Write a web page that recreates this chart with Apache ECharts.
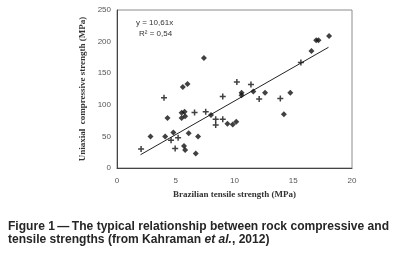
<!DOCTYPE html>
<html>
<head>
<meta charset="utf-8">
<script src="https://cdn.jsdelivr.net/npm/echarts@6/dist/echarts.min.js"></script>
<style>
  html, body { margin: 0; padding: 0; background: #fff; }
  #chart { width: 397px; height: 263px; }
</style>
</head>
<body>
<div id="chart"></div>
<script>
// diamond-marked samples [BTS, UCS]
var diamondPts = [
  [7.4, 174], [5.6, 128], [6.0, 133], [10.6, 119], [10.6, 115], [11.6, 121],
  [12.6, 119], [14.75, 119], [16.55, 185], [16.95, 202], [17.15, 202], [18.05, 209],
  [2.85, 50], [4.1, 50], [4.3, 79], [4.8, 56], [5.5, 79], [5.5, 87.5],
  [5.75, 89], [5.8, 82], [5.7, 35], [5.8, 28.5], [6.1, 55], [6.7, 23],
  [6.9, 50], [8.0, 84], [9.4, 70], [9.85, 69], [10.15, 73], [14.2, 85]
];
// plus-marked samples [BTS, UCS]
var plusPts = [
  [4.0, 111], [9.0, 113], [10.2, 136], [11.4, 132], [12.1, 109], [13.9, 110],
  [15.65, 167], [2.05, 30], [4.6, 44], [4.95, 31], [5.2, 48], [6.6, 88],
  [7.55, 89], [8.4, 77], [8.4, 68], [9.0, 77]
];
// linear trend line end points
var trendX = [2, 18];
var trendY = [21, 191];
var xTicks = [0, 5, 10, 15, 20];
var yTicks = [0, 50, 100, 150, 200, 250];

var captionLine1 = 'Figure 1\u2009\u2014\u2009The typical relationship between rock compressive and';
var captionFont = 'bold 12.5px "Liberation Sans"';

// squeeze the caption to the width of the printed (condensed) one
var ctx = document.createElement('canvas').getContext('2d');
ctx.font = captionFont;
var capScale = 381 / ctx.measureText(captionLine1).width;

var chart = echarts.init(document.getElementById('chart'));
chart.setOption({
  animation: false,
  grid: {
    left: 117, right: 45, top: 10, bottom: 95,
    show: true, borderColor: '#8c8c8c', borderWidth: 1
  },
  xAxis: {
    type: 'value', min: xTicks[0], max: xTicks[xTicks.length - 1], interval: 5,
    name: 'Brazilian tensile strength (MPa)',
    nameLocation: 'middle', nameGap: 22,
    nameTextStyle: { fontFamily: 'Liberation Serif', fontWeight: 'bold', fontSize: 9, color: '#333' },
    axisLine: { lineStyle: { color: '#444' } },
    axisTick: { show: false },
    splitLine: { show: false },
    axisLabel: { fontFamily: 'Liberation Sans', fontSize: 8, color: '#555', margin: 9 }
  },
  yAxis: {
    type: 'value', min: yTicks[0], max: yTicks[yTicks.length - 1], interval: 50,
    name: 'Uniaxial  compressive strength (MPa)',
    nameLocation: 'middle', nameGap: 28,
    nameTextStyle: { fontFamily: 'Liberation Serif', fontWeight: 'bold', fontSize: 9, color: '#333' },
    axisLine: { show: true, lineStyle: { color: '#444' } },
    axisTick: { show: false },
    splitLine: { show: false },
    axisLabel: { fontFamily: 'Liberation Sans', fontSize: 8, color: '#555', margin: 6 }
  },
  series: [
    {
      type: 'line',
      data: trendX.map(function (x, i) { return [x, trendY[i]]; }),
      symbol: 'none',
      lineStyle: { color: '#222', width: 1 },
      z: 1
    },
    {
      type: 'scatter',
      data: diamondPts,
      symbol: 'diamond',
      symbolSize: 6,
      itemStyle: { color: '#111' },
      z: 3
    },
    {
      type: 'scatter',
      data: plusPts,
      symbol: 'path://M3,0H5V3H8V5H5V8H3V5H0V3H3Z',
      symbolSize: 6,
      itemStyle: { color: '#111' },
      z: 3
    }
  ],
  graphic: [
    {
      type: 'text', left: 136, top: 19,
      style: { text: 'y = 10,61x', fontFamily: 'Liberation Sans', fontSize: 8, fill: '#333' }
    },
    {
      type: 'text', left: 139, top: 30,
      style: { text: 'R² = 0,54', fontFamily: 'Liberation Sans', fontSize: 8, fill: '#333' }
    },
    {
      type: 'text', x: 8, y: 226.5, scaleX: capScale, originX: 0,
      style: {
        text: captionLine1, verticalAlign: 'middle',
        fontFamily: 'Liberation Sans', fontWeight: 'bold', fontSize: 12.5, fill: '#262626'
      }
    },
    {
      type: 'text', x: 8, y: 240, scaleX: capScale, originX: 0,
      style: {
        text: 'tensile strengths (from Kahraman {i|et al.}, 2012)', verticalAlign: 'middle',
        fontFamily: 'Liberation Sans', fontWeight: 'bold', fontSize: 12.5, fill: '#262626',
        rich: {
          i: { fontFamily: 'Liberation Sans', fontWeight: 'bold', fontStyle: 'italic', fontSize: 12.5, fill: '#262626' }
        }
      }
    }
  ]
});
</script>
</body>
</html>
